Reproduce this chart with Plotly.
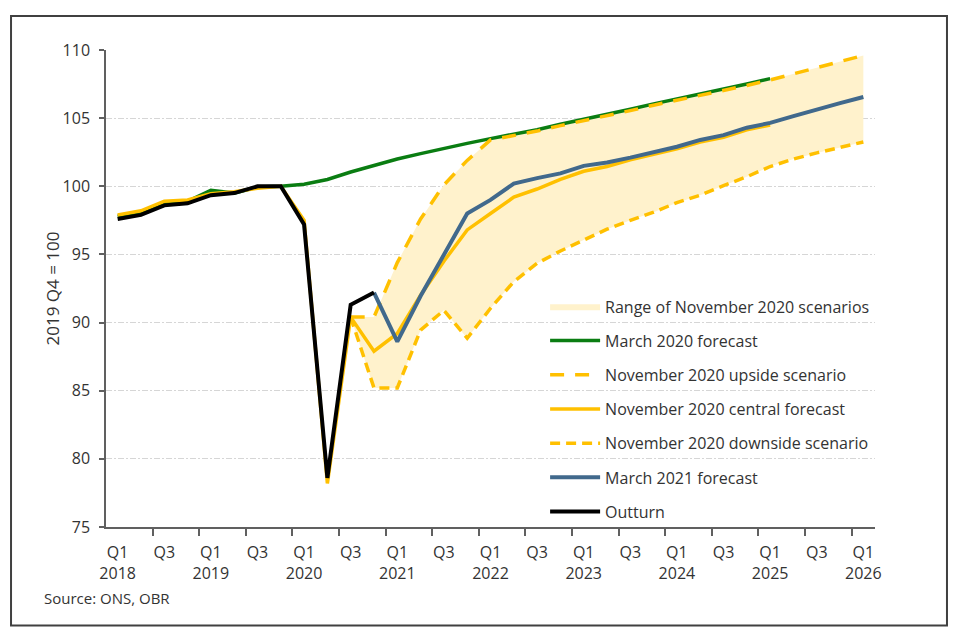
import plotly.graph_objects as go

# ---------------- data ----------------
quarters = ["2018Q1","2018Q2","2018Q3","2018Q4","2019Q1","2019Q2","2019Q3","2019Q4",
            "2020Q1","2020Q2","2020Q3","2020Q4","2021Q1","2021Q2","2021Q3","2021Q4",
            "2022Q1","2022Q2","2022Q3","2022Q4","2023Q1","2023Q2","2023Q3","2023Q4",
            "2024Q1","2024Q2","2024Q3","2024Q4","2025Q1","2025Q2","2025Q3","2025Q4",
            "2026Q1"]
tick_labels = ["Q1<br>2018","Q3","Q1<br>2019","Q3","Q1<br>2020","Q3","Q1<br>2021","Q3",
               "Q1<br>2022","Q3","Q1<br>2023","Q3","Q1<br>2024","Q3","Q1<br>2025","Q3",
               "Q1<br>2026"]

outturn = [97.6, 97.9, 98.6, 98.75, 99.35, 99.5, 100.0, 100.0, 97.2, 78.6, 91.3, 92.2]

march2020 = [97.8, 98.1, 98.7, 98.9, 99.7, 99.5, 99.95, 100.0, 100.15, 100.5, 101.05,
             101.55, 102.0, 102.4, 102.8, 103.15, 103.5, 103.8, 104.15, 104.55, 104.9,
             105.3, 105.65, 106.05, 106.4, 106.8, 107.15, 107.5, 107.9]

nov_central = [97.9, 98.2, 98.9, 99.0, 99.45, 99.6, 99.85, 100.0, 97.5, 78.2, 90.4,
               87.9, 89.2, 92.0, 94.5, 96.8, 98.0, 99.2, 99.8, 100.5, 101.1, 101.45,
               101.95, 102.35, 102.75, 103.25, 103.6, 104.15, 104.5]

# November scenarios start in 2020 Q3 (index 10)
scen_start = 10
nov_upside = [90.4, 90.4, 94.4, 97.6, 100.1, 101.9, 103.4, 103.7, 104.05, 104.45, 104.8,
              105.2, 105.55, 105.95, 106.3, 106.7, 107.05, 107.4, 107.8, 108.25, 108.7,
              109.15, 109.6]
nov_downside = [90.4, 85.2, 85.2, 89.45, 90.9, 88.85, 91.05, 93.0, 94.35, 95.25, 96.05,
                96.85, 97.5, 98.1, 98.8, 99.35, 100.05, 100.7, 101.45, 102.0, 102.45,
                102.85, 103.25]

# March 2021 forecast starts in 2020 Q4 (index 11)
mar21_start = 11
march2021 = [92.2, 88.6, 91.95, 95.0, 98.0, 99.0, 100.2, 100.6, 100.95, 101.5, 101.75,
             102.1, 102.5, 102.9, 103.4, 103.75, 104.3, 104.65, 105.15, 105.65, 106.1,
             106.55]

# ---------------- styling ----------------
GREEN = "#0a7d12"
ORANGE = "#ffc000"
BLUE = "#41698c"
FILL = "#fff2cc"
TEXT = "#333333"
AXIS = "#606060"
FONT = "Open Sans, Lato, sans-serif"

idx = list(range(len(quarters)))
scen_x = idx[scen_start:scen_start + len(nov_upside)]
mar21_x = idx[mar21_start:mar21_start + len(march2021)]

fig = go.Figure()

# range band
fig.add_trace(go.Scatter(x=scen_x, y=nov_downside, mode="lines", line=dict(width=0),
                         showlegend=False, hoverinfo="skip"))
fig.add_trace(go.Scatter(x=scen_x, y=nov_upside, mode="lines", line=dict(width=0),
                         fill="tonexty", fillcolor=FILL,
                         name="Range of November 2020 scenarios", legendgroup="a"))

fig.add_trace(go.Scatter(x=idx[:len(march2020)], y=march2020, mode="lines",
                         line=dict(color=GREEN, width=3.5),
                         name="March 2020 forecast", legendgroup="b"))
fig.add_trace(go.Scatter(x=scen_x, y=nov_upside, mode="lines",
                         line=dict(color=ORANGE, width=3.5, dash="14px,11px"),
                         name="November 2020 upside scenario", legendgroup="c"))
fig.add_trace(go.Scatter(x=idx[:len(nov_central)], y=nov_central, mode="lines",
                         line=dict(color=ORANGE, width=3.5),
                         name="November 2020 central forecast", legendgroup="d"))
fig.add_trace(go.Scatter(x=scen_x, y=nov_downside, mode="lines",
                         line=dict(color=ORANGE, width=3.5, dash="10px,6px"),
                         name="November 2020 downside scenario", legendgroup="e"))
fig.add_trace(go.Scatter(x=mar21_x, y=march2021, mode="lines",
                         line=dict(color=BLUE, width=4),
                         name="March 2021 forecast", legendgroup="f"))
fig.add_trace(go.Scatter(x=idx[:len(outturn)], y=outturn, mode="lines",
                         line=dict(color="#000000", width=4),
                         name="Outturn", legendgroup="g"))

tickvals = idx[::2]
boundaries = [i + 1.5 for i in idx[::2][:-1]]

fig.update_layout(
    width=952, height=632,
    margin=dict(l=98, r=85, t=42, b=112.5),
    paper_bgcolor="white", plot_bgcolor="white",
    font=dict(family=FONT, size=15, color=TEXT),
    showlegend=True,
    legend=dict(x=0.571, y=0.498, xanchor="left", yanchor="top",
                bgcolor="rgba(0,0,0,0)", font=dict(size=16, color=TEXT),
                itemwidth=50, tracegroupgap=10.4, traceorder="grouped"),
    xaxis=dict(range=[-0.5, 32.5], tickmode="array", tickvals=tickvals,
               ticktext=tick_labels, ticks="", showgrid=False, zeroline=False,
               showline=True, linecolor=AXIS, linewidth=1.5,
               tickfont=dict(size=16, color=TEXT), ticklabelstandoff=10,
               minor=dict(tickmode="array", tickvals=boundaries, ticks="outside",
                          ticklen=7, tickwidth=1.5, tickcolor=AXIS, showgrid=False)),
    yaxis=dict(range=[75, 110], tickmode="array", tickvals=[75, 80, 85, 90, 95, 100, 105, 110],
               ticks="outside", ticklen=5, tickwidth=1.5, tickcolor=AXIS,
               showline=True, linecolor=AXIS, linewidth=1.5, zeroline=False,
               showgrid=True, gridcolor="#d6d6d6", gridwidth=1.2, griddash="6px,2px,2px,2px",
               tickfont=dict(size=16, color=TEXT), ticklabelstandoff=6),
    annotations=[
        dict(text="2019 Q4 = 100", xref="paper", yref="paper", x=-0.069, y=0.5,
             textangle=-90, showarrow=False, font=dict(size=17, color=TEXT),
             xanchor="center", yanchor="middle"),
        dict(text="Source: ONS, OBR", xref="paper", yref="paper", x=-0.083, y=-0.148,
             showarrow=False, font=dict(size=15, color=TEXT),
             xanchor="left", yanchor="middle"),
    ],
    shapes=[
        dict(type="rect", xref="paper", yref="paper", x0=-0.1235, x1=1.0936,
             y0=-0.2063, y1=1.0712, line=dict(color="#404040", width=2),
             fillcolor="rgba(0,0,0,0)", layer="below"),
    ],
)

fig.write_html("out.html")
